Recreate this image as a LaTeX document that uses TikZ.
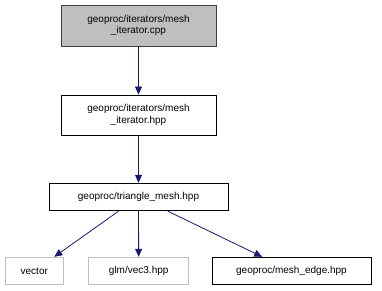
\documentclass[tikz,border=0pt]{standalone}
\usepackage{fontspec}
\setmainfont{Liberation Sans}
\usetikzlibrary{arrows.meta}
\definecolor{edgeblue}{HTML}{191970}
\definecolor{lightborder}{HTML}{BFBFBF}
\definecolor{curfill}{HTML}{BFBFBF}
\definecolor{curborder}{HTML}{404040}
\begin{document}
\begin{tikzpicture}[x=1pt,y=-1pt,
  filebox/.style={draw=black,fill=white,line width=0.9pt,inner sep=0pt,
    font=\fontsize{10}{11.5}\selectfont,align=center},
  currentbox/.style={filebox,draw=curborder,fill=curfill},
  extbox/.style={filebox,draw=lightborder},
  dep/.style={draw=edgeblue,line width=0.8pt,-{Triangle[length=8pt,width=7pt]}}]
\useasboundingbox (0,0) rectangle (382,291);
% file nodes
\node[currentbox,minimum width=155pt,minimum height=41pt] (it) at (138.5,25.5)
  {geoproc/iterators/mesh\\\_iterator.cpp};
\node[filebox,minimum width=155pt,minimum height=40pt] (ith) at (138.5,115)
  {geoproc/iterators/mesh\\\_iterator.hpp};
\node[filebox,minimum width=179pt,minimum height=27.5pt] (tm) at (138.5,197)
  {geoproc/triangle\_mesh.hpp};
\node[extbox,minimum width=58pt,minimum height=27.5pt] (vec) at (34.3,271)
  {vector};
\node[extbox,minimum width=100pt,minimum height=27.5pt] (glm) at (138.7,271)
  {glm/vec3.hpp};
\node[filebox,minimum width=159pt,minimum height=27.5pt] (edge) at (291.5,271)
  {geoproc/mesh\_edge.hpp};
% include dependencies
\draw[dep] (it) -- (ith);
\draw[dep] (ith) -- (tm);
\draw[dep] (tm) -- (vec);
\draw[dep] (tm) -- (glm);
\draw[dep] (tm) -- (edge);
\end{tikzpicture}
\end{document}
